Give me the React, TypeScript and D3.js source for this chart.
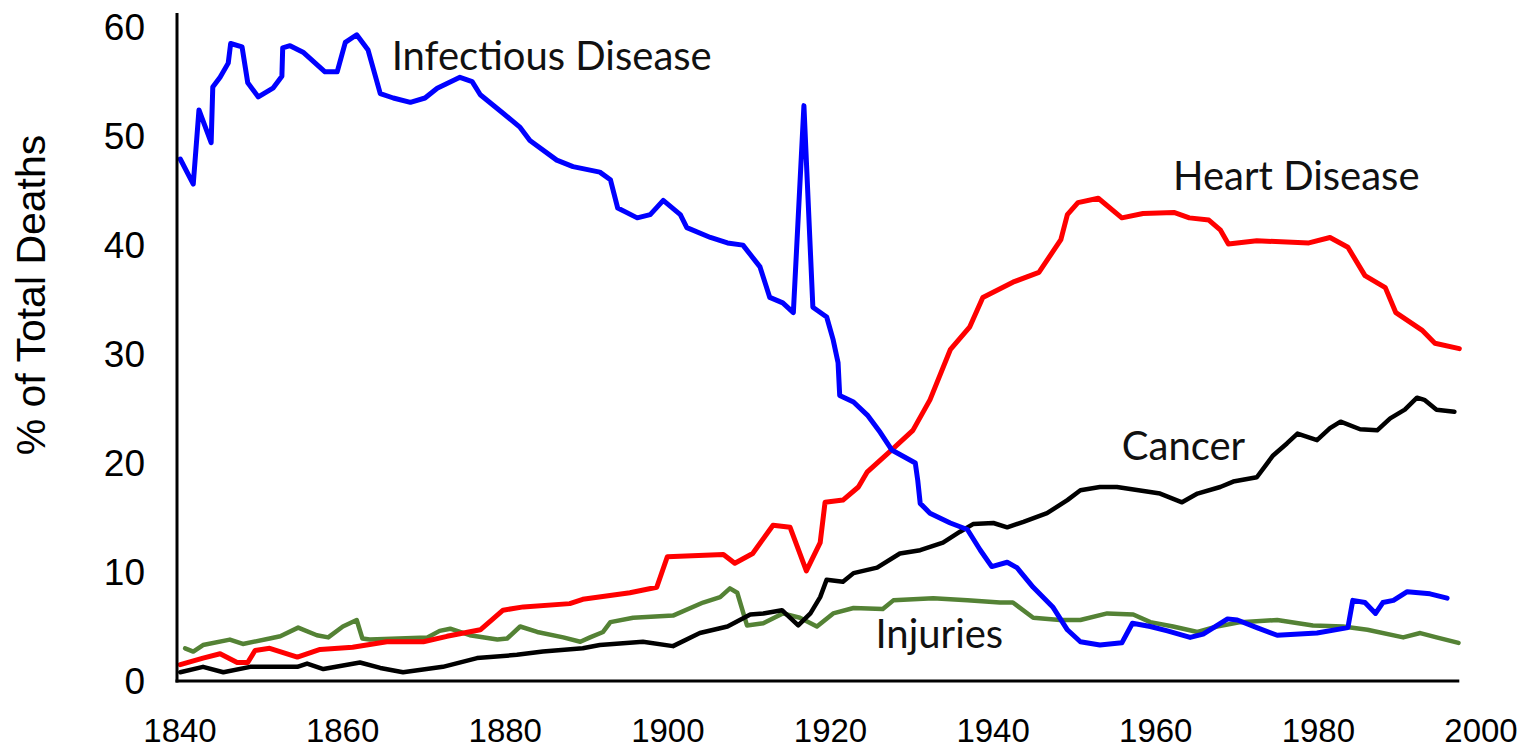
import React from "react";
import * as d3 from "d3";

// [year, % of total deaths]
const infectious: [number, number][] = [
  [1840.4, 47.9], [1842.0, 45.6], [1842.7, 52.4], [1844.2, 49.4], [1844.4, 54.5],
  [1845.3, 55.4], [1846.3, 56.7], [1846.6, 58.5], [1848.0, 58.2], [1848.7, 54.9],
  [1850.0, 53.6], [1851.8, 54.4], [1852.9, 55.5], [1853.0, 58.1], [1853.9, 58.3],
  [1855.5, 57.7], [1858.2, 55.9], [1859.7, 55.9], [1860.7, 58.6], [1862.1, 59.3],
  [1863.5, 57.9], [1865.0, 53.9], [1866.6, 53.5], [1868.7, 53.1], [1870.5, 53.5],
  [1872.0, 54.4], [1874.8, 55.4], [1876.3, 55.0], [1877.3, 53.8], [1880.1, 52.1],
  [1882.2, 50.8], [1883.4, 49.6], [1886.7, 47.8], [1888.7, 47.2], [1892.0, 46.7],
  [1893.3, 46.0], [1894.2, 43.4], [1896.6, 42.5], [1898.2, 42.8], [1899.8, 44.1],
  [1901.9, 42.8], [1902.7, 41.6], [1905.6, 40.7], [1907.7, 40.2], [1909.6, 40.0],
  [1911.7, 38.0], [1912.9, 35.2], [1914.5, 34.7], [1915.8, 33.8], [1917.1, 52.8],
  [1918.2, 34.3], [1919.9, 33.4], [1920.7, 31.3], [1921.3, 29.2], [1921.5, 26.2],
  [1923.2, 25.6], [1924.9, 24.4], [1926.5, 22.8], [1927.9, 21.2], [1930.8, 20.0],
  [1931.1, 18.4], [1931.4, 16.3], [1932.6, 15.4], [1935.1, 14.5], [1937.2, 13.9],
  [1938.8, 12.0], [1940.2, 10.5], [1942.1, 10.9], [1943.3, 10.4], [1945.3, 8.6],
  [1947.7, 6.8], [1949.5, 4.7], [1951.1, 3.6], [1953.5, 3.3], [1956.2, 3.5],
  [1957.5, 5.3], [1959.7, 5.0], [1961.8, 4.6], [1964.6, 4.0], [1966.2, 4.3],
  [1969.2, 5.7], [1970.4, 5.6], [1972.8, 4.9], [1975.3, 4.2], [1980.2, 4.4],
  [1984.0, 4.9], [1984.6, 7.4], [1986.1, 7.2], [1987.4, 6.2], [1988.3, 7.2],
  [1989.6, 7.4], [1991.3, 8.2], [1994.1, 8.0], [1996.2, 7.6],
];

const heart: [number, number][] = [
  [1840.4, 1.5], [1843.2, 2.1], [1845.3, 2.5], [1847.4, 1.7], [1848.7, 1.7],
  [1849.6, 2.8], [1851.4, 3.0], [1854.8, 2.2], [1857.6, 2.9], [1861.6, 3.1],
  [1865.8, 3.6], [1870.3, 3.6], [1873.2, 4.1], [1877.3, 4.7], [1880.1, 6.5],
  [1882.6, 6.8], [1888.3, 7.1], [1889.9, 7.5], [1895.7, 8.1], [1899.0, 8.6],
  [1900.3, 11.4], [1907.2, 11.6], [1908.6, 10.8], [1910.8, 11.7], [1913.3, 14.3],
  [1915.4, 14.1], [1917.4, 10.1], [1919.1, 12.7], [1919.7, 16.4], [1921.9, 16.6],
  [1923.8, 17.8], [1924.9, 19.2], [1927.9, 21.2], [1930.5, 23.0], [1932.6, 25.8],
  [1935.1, 30.4], [1937.5, 32.5], [1939.1, 35.2], [1942.8, 36.6], [1946.0, 37.5],
  [1948.7, 40.5], [1949.5, 42.8], [1950.8, 43.9], [1953.3, 44.3], [1956.2, 42.5],
  [1958.8, 42.9], [1962.6, 43.0], [1964.5, 42.5], [1966.9, 42.3], [1968.3, 41.4],
  [1969.3, 40.1], [1972.8, 40.4], [1979.2, 40.2], [1981.8, 40.7], [1984.0, 39.8],
  [1986.1, 37.2], [1988.6, 36.1], [1989.9, 33.8], [1993.1, 32.2], [1994.7, 31.0],
  [1997.7, 30.5],
];

const cancer: [number, number][] = [
  [1840.4, 0.8], [1843.2, 1.3], [1845.7, 0.8], [1849.0, 1.3], [1854.8, 1.3],
  [1856.0, 1.6], [1858.0, 1.1], [1862.5, 1.7], [1865.0, 1.2], [1867.8, 0.8],
  [1872.7, 1.3], [1876.9, 2.1], [1881.8, 2.4], [1885.0, 2.7], [1889.9, 3.0],
  [1892.0, 3.3], [1897.3, 3.6], [1901.0, 3.2], [1904.3, 4.4], [1907.7, 5.0],
  [1910.5, 6.1], [1912.1, 6.2], [1914.4, 6.5], [1916.4, 5.1], [1917.9, 6.2],
  [1919.1, 7.7], [1919.9, 9.3], [1921.9, 9.1], [1923.2, 9.9], [1926.1, 10.4],
  [1928.9, 11.7], [1931.4, 12.0], [1934.2, 12.7], [1936.3, 13.7], [1937.9, 14.4],
  [1940.4, 14.5], [1942.1, 14.1], [1944.1, 14.6], [1947.0, 15.4], [1949.5, 16.6],
  [1951.1, 17.5], [1953.5, 17.8], [1955.6, 17.8], [1960.9, 17.2], [1963.6, 16.4],
  [1965.5, 17.2], [1968.3, 17.8], [1969.9, 18.3], [1972.8, 18.7], [1974.8, 20.7],
  [1976.5, 21.8], [1977.8, 22.7], [1980.2, 22.1], [1981.8, 23.2], [1983.1, 23.8],
  [1985.5, 23.1], [1987.6, 23.0], [1989.2, 24.1], [1991.0, 24.9], [1992.5, 26.0],
  [1993.4, 25.8], [1994.9, 24.9], [1997.1, 24.7],
];

const injuries: [number, number][] = [
  [1841.0, 3.0], [1842.0, 2.7], [1843.2, 3.3], [1846.5, 3.8], [1848.1, 3.4],
  [1851.4, 3.9], [1852.7, 4.1], [1854.9, 4.9], [1857.2, 4.2], [1858.6, 4.0],
  [1860.4, 5.0], [1862.1, 5.6], [1862.8, 3.9], [1863.7, 3.8], [1870.8, 4.0],
  [1872.3, 4.6], [1873.6, 4.8], [1876.0, 4.2], [1879.4, 3.8], [1880.6, 3.9],
  [1882.2, 5.0], [1884.3, 4.5], [1887.5, 4.0], [1889.6, 3.6], [1890.8, 4.0],
  [1892.4, 4.5], [1893.3, 5.4], [1896.1, 5.8], [1901.0, 6.0], [1904.7, 7.2],
  [1906.8, 7.7], [1908.0, 8.5], [1908.9, 8.1], [1910.1, 5.1], [1912.1, 5.3],
  [1914.5, 6.2], [1916.6, 5.8], [1918.7, 5.0], [1920.7, 6.2], [1923.2, 6.7],
  [1926.8, 6.6], [1928.1, 7.4], [1933.0, 7.6], [1937.2, 7.4], [1941.2, 7.2],
  [1942.8, 7.2], [1945.3, 5.8], [1948.6, 5.6], [1951.1, 5.6], [1954.4, 6.2],
  [1957.6, 6.1], [1959.7, 5.4], [1962.5, 5.0], [1965.5, 4.5], [1967.9, 5.0],
  [1970.8, 5.4], [1975.3, 5.6], [1979.7, 5.1], [1983.4, 5.0], [1986.4, 4.7],
  [1990.8, 4.0], [1992.9, 4.4], [1994.9, 4.0], [1997.6, 3.5],
];

const xTicks = [1840, 1860, 1880, 1900, 1920, 1940, 1960, 1980, 2000];
const yTicks = [0, 10, 20, 30, 40, 50, 60];
const lastYear = 1997.7;

const series = [
  { name: "Injuries", data: injuries, color: "#548235", width: 4.5 },
  { name: "Cancer", data: cancer, color: "#000000", width: 4.5 },
  { name: "Heart Disease", data: heart, color: "#ff0000", width: 5 },
  { name: "Infectious Disease", data: infectious, color: "#0000ff", width: 5 },
];

const labels = [
  { text: "Infectious Disease", year: 1866.4, value: 56.1 },
  { text: "Heart Disease", year: 1962.5, value: 45.1 },
  { text: "Cancer", year: 1956.2, value: 20.3 },
  { text: "Injuries", year: 1925.9, value: 3.0 },
];

export default function App() {
  const x = d3.scaleLinear().domain([1840, 2000]).range([177, 1478]);
  const y = d3.scaleLinear().domain([0, 61.3]).range([681, 13]);
  const line = d3
    .line<[number, number]>()
    .x((d) => x(d[0]))
    .y((d) => y(d[1]));

  const axisFont = "Arial, 'Liberation Sans', sans-serif";

  return (
    <svg
      width={1530}
      height={751}
      style={{ position: "absolute", left: 0, top: 0, background: "#fff" }}
    >
      {series.map((s) => (
        <path
          key={s.name}
          d={line(s.data) || ""}
          fill="none"
          stroke={s.color}
          strokeWidth={s.width}
          strokeLinejoin="round"
          strokeLinecap="round"
        />
      ))}

      {/* axes */}
      <line x1={x(1840)} x2={x(1840)} y1={y(61.3)} y2={y(0) + 1.5} stroke="#000" strokeWidth={3} />
      <line x1={x(1840) - 1.5} x2={x(lastYear)} y1={y(0)} y2={y(0)} stroke="#000" strokeWidth={3} />

      {yTicks.map((t) => (
        <text
          key={t}
          x={145}
          y={y(t)}
          dy="0.36em"
          textAnchor="end"
          fontFamily={axisFont}
          fontSize={37}
          fill="#000"
        >
          {t}
        </text>
      ))}
      {xTicks.map((t) => (
        <text
          key={t}
          x={x(t) + 3}
          y={730}
          dy="0.35em"
          textAnchor="middle"
          fontFamily={axisFont}
          fontSize={33}
          fill="#000"
        >
          {t}
        </text>
      ))}

      <text
        transform="translate(45,295) rotate(-90)"
        textAnchor="middle"
        fontFamily={axisFont}
        fontSize={41}
        fill="#000"
      >
        % of Total Deaths
      </text>

      {labels.map((l) => (
        <text
          key={l.text}
          x={x(l.year)}
          y={y(l.value)}
          fontFamily="Lato, 'Open Sans', sans-serif"
          fontSize={40}
          fill="#111"
        >
          {l.text}
        </text>
      ))}
    </svg>
  );
}
